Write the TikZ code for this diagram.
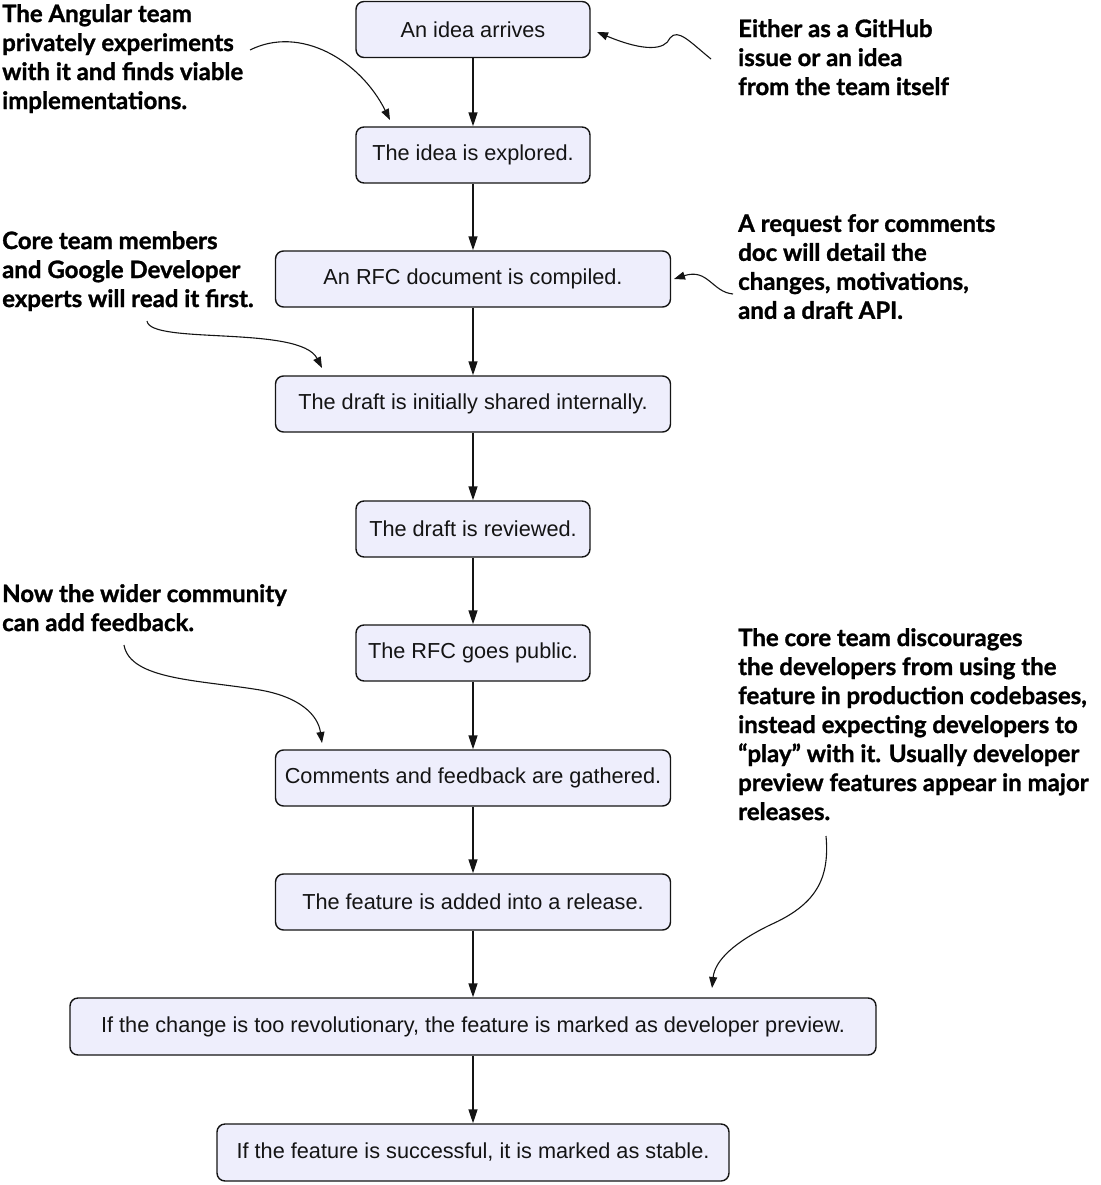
\documentclass[tikz,border=0pt]{standalone}
\usepackage{fontspec}
\setmainfont{Liberation Sans}
\newfontfamily\annfont{Lato}[BoldFeatures={FakeBold=1.2}]
\usetikzlibrary{arrows.meta}
\definecolor{boxfill}{RGB}{238,238,252}
\definecolor{ink}{RGB}{20,20,20}
\begin{document}
\begin{tikzpicture}[x=1pt,y=-1pt,
  box/.style={draw=ink, line width=1.4pt, fill=boxfill, rounded corners=8pt,
    font=\fontsize{21.7}{25}\selectfont, inner sep=0pt, text=ink, minimum height=56},
  flow/.style={-{Triangle[length=14pt,width=9pt]}, line width=1.5pt, draw=ink},
  note/.style={anchor=north west, align=left, inner sep=0pt,
    font=\annfont\bfseries\fontsize{24}{29}\selectfont, text=black},
  pointer/.style={-{Triangle[length=11pt,width=8pt]}, line width=1.1pt, draw=ink}]
\useasboundingbox (0,0) rectangle (1100,1185);
% boxes
\node[box, minimum width=234] (b1) at (473,29.5) {An idea arrives};
\node[box, minimum width=234] (b2) at (473,155) {The idea is explored.};
\node[box, minimum width=395] (b3) at (473,279) {An RFC document is compiled.};
\node[box, minimum width=395] (b4) at (473,404) {The draft is initially shared internally.};
\node[box, minimum width=234] (b5) at (473,529) {The draft is reviewed.};
\node[box, minimum width=234] (b6) at (473,653) {The RFC goes public.};
\node[box, minimum width=395] (b7) at (473,778) {Comments and feedback are gathered.};
\node[box, minimum width=395] (b8) at (473,902) {The feature is added into a release.};
\node[box, minimum width=806, minimum height=57] (b9) at (473,1026.5) {If the change is too revolutionary, the feature is marked as developer preview.};
\node[box, minimum width=512, minimum height=57] (b10) at (473,1152.5) {If the feature is successful, it is marked as stable.};
\draw[flow] (b1) -- (b2);
\draw[flow] (b2) -- (b3);
\draw[flow] (b3) -- (b4);
\draw[flow] (b4) -- (b5);
\draw[flow] (b5) -- (b6);
\draw[flow] (b6) -- (b7);
\draw[flow] (b7) -- (b8);
\draw[flow] (b8) -- (b9);
\draw[flow] (b9) -- (b10);
% notes
\node[note] (n1) at (2,4) {The Angular team\\privately experiments\\with it and finds viable\\implementations.};
\node[note] (n2) at (738,19) {Either as a GitHub\\issue or an idea\\from the team itself};
\node[note] (n3) at (2,231) {Core team members\\and Google Developer\\experts will read it first.};
\node[note] (n4) at (738,214) {A request for comments\\doc will detail the\\changes, motivations,\\and a draft API.};
\node[note] (n5) at (2,584) {Now the wider community\\can add feedback.};
\node[note] (n6) at (738,628) {The core team discourages\\the developers from using the\\feature in production codebases,\\instead expecting developers to\\“play” with it. Usually developer\\preview features appear in major\\releases.};
% pointer coordinates
\coordinate (s1) at (250,50);
\coordinate (t1) at (390,120);
\coordinate (s2) at (711,59);
\coordinate (m2) at (670,38);
\coordinate (t2) at (597,32);
\coordinate (s3) at (147,321);
\coordinate (t3) at (322,368);
\coordinate (s4) at (733,294);
\coordinate (t4) at (674,279);
\coordinate (s5) at (124,645);
\coordinate (m5) at (260,690);
\coordinate (t5) at (322,743);
\coordinate (s6) at (826,836);
\coordinate (m6) at (770,925);
\coordinate (t6) at (712,988);
\draw[pointer] (s1) .. controls (300,25) and (360,60) .. (t1);
\draw[pointer] (s2) .. controls (690,42) and (678,28) .. (m2) .. controls (665,50) and (645,52) .. (t2);
\draw[pointer] (s3) .. controls (150,345) and (300,325) .. (t3);
\draw[pointer] (s4) .. controls (712,292) and (708,268) .. (t4);
\draw[pointer] (s5) .. controls (130,680) and (200,680) .. (m5) .. controls (300,697) and (318,715) .. (t5);
\draw[pointer] (s6) .. controls (830,880) and (815,905) .. (m6) .. controls (735,942) and (715,960) .. (t6);
\end{tikzpicture}
\end{document}
